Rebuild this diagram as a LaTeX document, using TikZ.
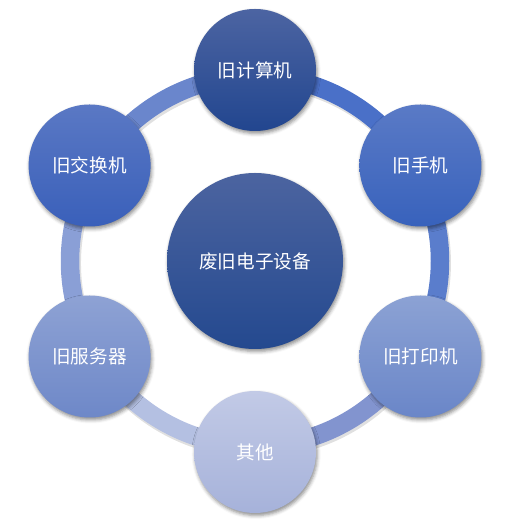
\documentclass[tikz,border=0pt]{standalone}
\usepackage{fontspec}
\newfontfamily\cjk{Noto Sans CJK SC}
\usetikzlibrary{shadows.blur}
\definecolor{ringA}{HTML}{4A70C8}
\definecolor{ringB}{HTML}{5A7DCC}
\definecolor{ringC}{HTML}{8294CF}
\definecolor{ringD}{HTML}{B4C0E2}
\definecolor{ringE}{HTML}{8A9FD6}
\definecolor{ringF}{HTML}{6A86CC}
\definecolor{hubT}{HTML}{4C64A0}
\definecolor{hubB}{HTML}{24498F}
\definecolor{pcT}{HTML}{4C64A2}
\definecolor{pcB}{HTML}{22468F}
\definecolor{phT}{HTML}{5A7AC6}
\definecolor{phB}{HTML}{3862BC}
\definecolor{prT}{HTML}{8CA2D4}
\definecolor{prB}{HTML}{6A86C8}
\definecolor{otT}{HTML}{C2CAE6}
\definecolor{otB}{HTML}{A6B2DA}
\definecolor{svT}{HTML}{8EA2D4}
\definecolor{svB}{HTML}{6E88C8}
\definecolor{swT}{HTML}{5A78C4}
\definecolor{swB}{HTML}{3A60BA}
\begin{document}
\begin{tikzpicture}[x=1pt,y=1pt,
  bubble/.style={circle, inner sep=0pt, minimum size=122pt, text=white,
    font=\cjk\fontsize{18.6}{20}\selectfont,
    blur shadow={shadow xshift=1.2pt, shadow yshift=-2.5pt, shadow blur radius=3.5pt, shadow opacity=45}},
  hub/.style={bubble, minimum size=176pt},
  ringseg/.style={line width=18.5pt},
  ringshadow/.style={line width=19.5pt, black, opacity=0.12}
]
\useasboundingbox (0,0) rectangle (515,526);
\coordinate (O) at (255,265);
\coordinate (Os) at (256.2,262.8);
% ring shadow
\foreach \a/\b in {90/30,30/-30,-30/-90,-90/-150,210/150,150/90}{
  \draw[ringshadow] ([shift={(\a:185)}]Os) arc[start angle=\a, end angle=\b, radius=185];
}
% ring segments
\foreach \a/\b/\c in {90/30/ringA,30/-30/ringB,-30/-90/ringC,-90/-150/ringD,210/150/ringE,150/90/ringF}{
  \draw[ringseg, \c] ([shift={(\a:185)}]O) arc[start angle=\a, end angle=\b, radius=185];
}
% centre
\node[hub, top color=hubT, bottom color=hubB] (c) at (O) {废旧电子设备};
% satellites
\node[bubble, top color=pcT, bottom color=pcB] (pc) at ([shift={(90:191)}]O) {旧计算机};
\node[bubble, top color=phT, bottom color=phB] (ph) at ([shift={(30:191)}]O) {旧手机};
\node[bubble, top color=prT, bottom color=prB] (pr) at ([shift={(-30:191)}]O) {旧打印机};
\node[bubble, top color=otT, bottom color=otB] (ot) at ([shift={(-90:191)}]O) {其他};
\node[bubble, top color=svT, bottom color=svB] (sv) at ([shift={(210:191)}]O) {旧服务器};
\node[bubble, top color=swT, bottom color=swB] (sw) at ([shift={(150:191)}]O) {旧交换机};
\end{tikzpicture}
\end{document}
